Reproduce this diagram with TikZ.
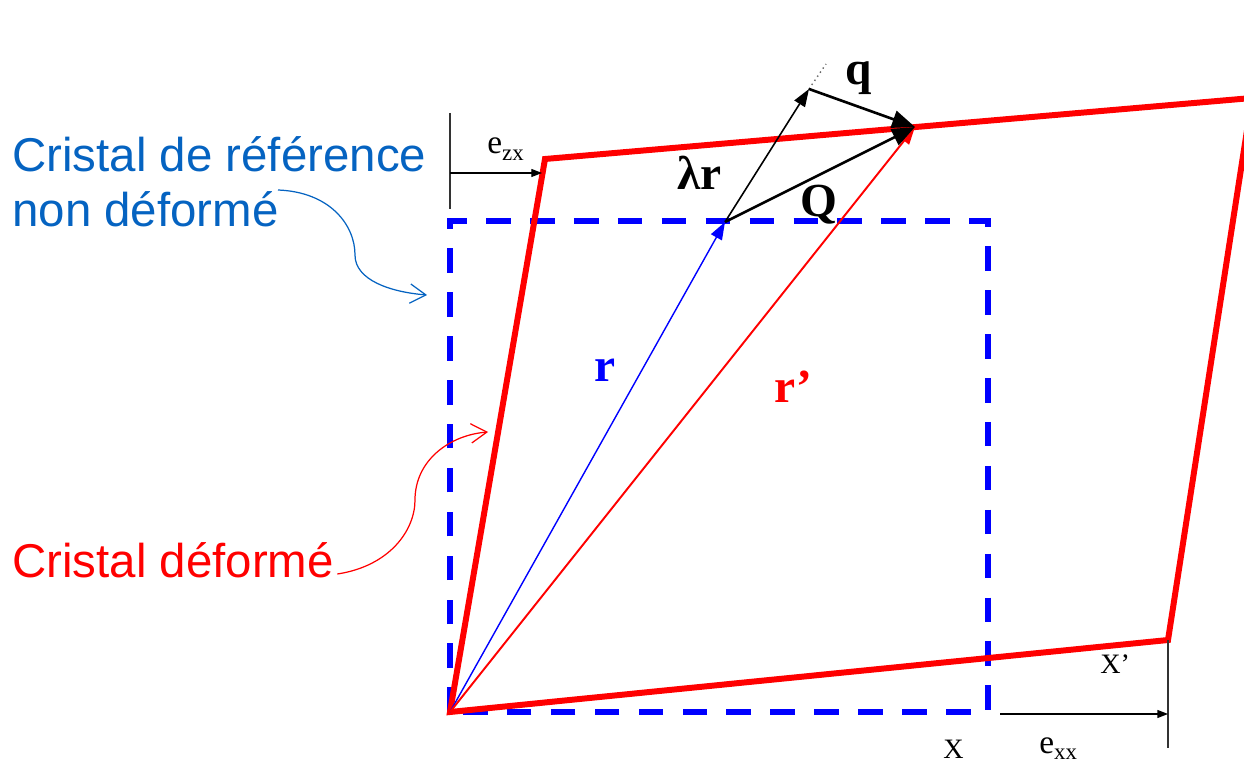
\documentclass[tikz,border=0pt]{standalone}
\usepackage{fontspec}
\setmainfont{Liberation Serif}
\newfontfamily\calloutfont{Liberation Sans}
\usetikzlibrary{arrows.meta, calc}
\definecolor{crRed}{HTML}{FF0000}
\definecolor{crBlue}{HTML}{0000FF}
\definecolor{noteBlue}{HTML}{0563C1}
\tikzset{
  % thick outlines for the two cells, thin vectors on top
  deformed/.style = {crRed, line width=3.4pt, line join=miter},
  refcell/.style  = {crBlue, line width=3.4pt, dash pattern=on 14pt off 11pt},
  thinvec/.style  = {-{Triangle[length=10pt, width=7pt]}, line width=0.9pt},
  bigvec/.style   = {-{Triangle[length=13pt, width=10pt]}, line width=1.5pt},
  dimline/.style  = {line width=0.6pt, black!80},
  dimarrow/.style = {-{Triangle[length=6pt, width=4.5pt]}, line width=0.6pt, black},
  callout/.style  = {-{Straight Barb[length=9pt, width=11pt]}, line width=0.7pt},
  note/.style     = {font=\calloutfont\fontsize{27}{32}\selectfont, anchor=base west, inner sep=0pt},
  vlbl/.style     = {font=\bfseries\fontsize{27}{30}\selectfont, anchor=base west, inner sep=0pt},
  slbl/.style     = {font=\fontsize{16}{18}\selectfont, anchor=base west, inner sep=0pt},
  elbl/.style     = {font=\fontsize{19}{21}\selectfont, anchor=base west, inner sep=0pt},
}
\newcommand{\subtxt}[1]{\raisebox{-0.4ex}{\fontsize{13}{14}\selectfont #1}}

\begin{document}
\begin{tikzpicture}[x=0.02cm, y=-0.02cm]
  \useasboundingbox (0,0) rectangle (1244,766);
  \clip (0,0) rectangle (1244,766);
  % corners of the two cells
  \coordinate (O)   at (450,712);
  \coordinate (Dx)  at (1168,640);
  \coordinate (Dz)  at (545,159);
  \coordinate (Dxz) at (1252,98);
  \coordinate (Sz)  at (450,221);
  \coordinate (Sxz) at (988,221);
  \coordinate (Sx)  at (988,712);
  % vector end points
  \coordinate (Rtip) at (725,222);
  \coordinate (Ltip) at (809,89);
  \coordinate (Ldot) at (826,64);
  \coordinate (Qtip) at (915,127);

  % reference cell (dashed) and deformed cell
  \draw[refcell] (O) -- (Sz) -- (Sxz) -- (Sx) -- cycle;
  \draw[deformed] (O) -- (Dz) -- (Dxz) -- (Dx) -- cycle;

  % vectors
  \draw[thinvec, crBlue, line width=0.8pt] (O) -- (Rtip);
  \draw[thinvec, crRed, line width=1.1pt] (O) -- (Qtip);
  \draw[thinvec, black] (Rtip) -- (Ltip);
  \draw[black!60, dotted, line width=0.8pt] (Ltip) -- (Ldot);
  \draw[bigvec, black] (Rtip) -- (Qtip);
  \draw[bigvec, black] (Ltip) -- (Qtip);

  % shear and stretch markers
  \coordinate (Ezx0) at (450,173);
  \coordinate (Ezx1) at (542,173);
  \draw[dimline] (450,113) -- (450,209);
  \draw[dimarrow] (Ezx0) -- (Ezx1);
  \coordinate (Exx0) at (1000,714);
  \coordinate (Exx1) at (1168,714);
  \draw[dimline] (Dx) -- (1168,748);
  \draw[dimarrow] (Exx0) -- (Exx1);

  % labels
  \node[vlbl] (lq)  at (845,85)  {q};
  \node[vlbl] (llr) at (677,190) {λr};
  \node[vlbl] (lQ)  at (800,217) {Q};
  \node[vlbl, crBlue] (lr) at (594,382) {r};
  \node[vlbl, crRed] (lrp) at (774,403) {r’};
  \node[elbl] (lezx) at (487,154) {e\subtxt{zx}};
  \node[elbl] (lexx) at (1039,753) {e\subtxt{xx}};
  \node[slbl] (lX)   at (943,758) {X};
  \node[slbl] (lXp)  at (1100,673) {X’};

  % callouts
  \node[note, noteBlue] (nref) at (12,172) {Cristal de référence};
  \node[note, noteBlue] (nref2) at (12,227) {non déformé};
  \node[note, crRed] (ndef) at (12,578) {Cristal déformé};
  \coordinate (Aref) at (427,295);
  \coordinate (Adef) at (488,432);
  \draw[callout, noteBlue] (278,190) .. controls (330,192) and (355,225) .. (355,255)
    .. controls (355,280) and (390,292) .. (Aref);
  \draw[callout, crRed] (ndef.base east) ++(3,-4) .. controls (390,566) and (415,530) .. (415,500)
    .. controls (415,460) and (450,435) .. (Adef);
\end{tikzpicture}
\end{document}
